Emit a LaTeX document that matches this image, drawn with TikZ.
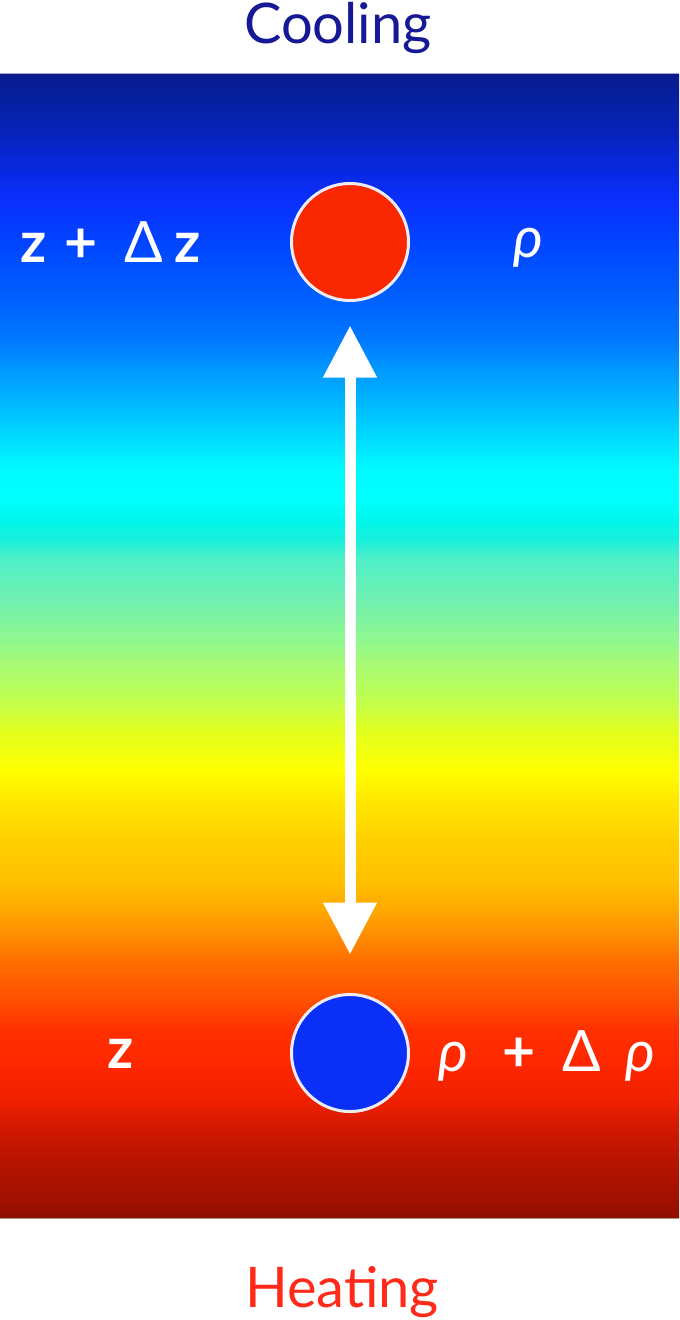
\documentclass[tikz,border=0pt]{standalone}
\usepackage{fontspec}
\setmainfont{Lato}
\usetikzlibrary{arrows.meta}
\definecolor{coolblue}{RGB}{22,24,150}
\definecolor{heatred}{RGB}{255,42,26}
\definecolor{hotfill}{RGB}{250,40,0}
\definecolor{coldfill}{RGB}{10,48,248}
\definecolor{ringcol}{RGB}{236,236,242}
\pgfdeclareverticalshading{thermo}{100bp}{%
color(0bp)=(rgb,255:red,142;green,16;blue,0);
color(25bp)=(rgb,255:red,142;green,16;blue,0);
color(25.79bp)=(rgb,255:red,160;green,16;blue,0);
color(27.54bp)=(rgb,255:red,184;green,20;blue,0);
color(28.85bp)=(rgb,255:red,208;green,24;blue,0);
color(30.16bp)=(rgb,255:red,240;green,32;blue,0);
color(31.91bp)=(rgb,255:red,255;green,40;blue,0);
color(33.22bp)=(rgb,255:red,255;green,48;blue,0);
color(34.54bp)=(rgb,255:red,255;green,80;blue,0);
color(36.29bp)=(rgb,255:red,255;green,112;blue,0);
color(37.16bp)=(rgb,255:red,255;green,136;blue,0);
color(38.47bp)=(rgb,255:red,255;green,168;blue,0);
color(39.79bp)=(rgb,255:red,255;green,192;blue,0);
color(41.54bp)=(rgb,255:red,255;green,208;blue,0);
color(43.29bp)=(rgb,255:red,255;green,232;blue,0);
color(44.60bp)=(rgb,255:red,255;green,255;blue,0);
color(46.35bp)=(rgb,255:red,224;green,255;blue,32);
color(47.66bp)=(rgb,255:red,192;green,255;blue,80);
color(49.19bp)=(rgb,255:red,168;green,250;blue,116);
color(50.28bp)=(rgb,255:red,144;green,248;blue,144);
color(52.03bp)=(rgb,255:red,112;green,240;blue,176);
color(53.78bp)=(rgb,255:red,80;green,240;blue,200);
color(54.66bp)=(rgb,255:red,24;green,240;blue,220);
color(55.53bp)=(rgb,255:red,0;green,246;blue,236);
color(56.40bp)=(rgb,255:red,0;green,255;blue,255);
color(57.72bp)=(rgb,255:red,0;green,250;blue,255);
color(59.03bp)=(rgb,255:red,0;green,220;blue,255);
color(60.78bp)=(rgb,255:red,0;green,180;blue,255);
color(62.10bp)=(rgb,255:red,0;green,152;blue,255);
color(63.41bp)=(rgb,255:red,0;green,120;blue,255);
color(65.16bp)=(rgb,255:red,0;green,96;blue,255);
color(67.35bp)=(rgb,255:red,0;green,72;blue,255);
color(69.40bp)=(rgb,255:red,10;green,48;blue,255);
color(70.85bp)=(rgb,255:red,8;green,40;blue,224);
color(72.59bp)=(rgb,255:red,6;green,34;blue,184);
color(73.91bp)=(rgb,255:red,6;green,32;blue,160);
color(75bp)=(rgb,255:red,10;green,26;blue,140);
color(100bp)=(rgb,255:red,10;green,26;blue,140)}
\tikzset{
  ball/.style={circle, minimum size=117pt, inner sep=0pt, line width=3pt, draw=ringcol},
  lbl/.style={text=white, inner sep=0pt, anchor=base west, font=\fontsize{57}{60}\selectfont},
  title/.style={inner sep=0pt, anchor=base, font=\fontsize{56}{60}\selectfont},
  bigarrow/.style={white, line width=11pt, >={Triangle[width=51pt,length=52pt]}, <->}
}
\begin{document}
\begin{tikzpicture}[x=1pt,y=-1pt]
\useasboundingbox (0,0) rectangle (680,1320);
\shade[shading=thermo] (0,74) rectangle (679,1218);
\draw[color=coolblue!40, line width=1.2pt] (0,73.6) -- (679,73.6);
\draw[color=black!40!brown!60, line width=1.2pt] (0,1218.6) -- (679,1218.6);
\node[title, text=coolblue] (cool) at (338,43) {Cooling};
\node[title, text=heatred] (heat) at (342,1307) {Heating};
\node[ball, fill=hotfill] (hot) at (350,242) {};
\node[ball, fill=coldfill] (cold) at (350,1053) {};
\draw[bigarrow, shorten <=23.5pt, shorten >=38.5pt] (hot) -- (cold);
\node[lbl] (ztop) at (33.5,262) {\makebox[0pt]{\bfseries z}\hspace{47pt}\makebox[0pt]{\bfseries +}\hspace{63.5pt}\makebox[0pt]{Δ}\hspace{43.5pt}\makebox[0pt]{\bfseries z}};
\node[lbl] (rhotop) at (528,257) {\makebox[0pt]{\itshape ρ}};
\node[lbl] (zbot) at (120,1068) {\makebox[0pt]{\bfseries z}};
\node[lbl] (rhobot) at (453,1071) {\makebox[0pt]{\itshape ρ}\hspace{66pt}\makebox[0pt]{\bfseries +}\hspace{63pt}\makebox[0pt]{Δ}\hspace{58.5pt}\makebox[0pt]{\itshape ρ}};
\end{tikzpicture}
\end{document}
